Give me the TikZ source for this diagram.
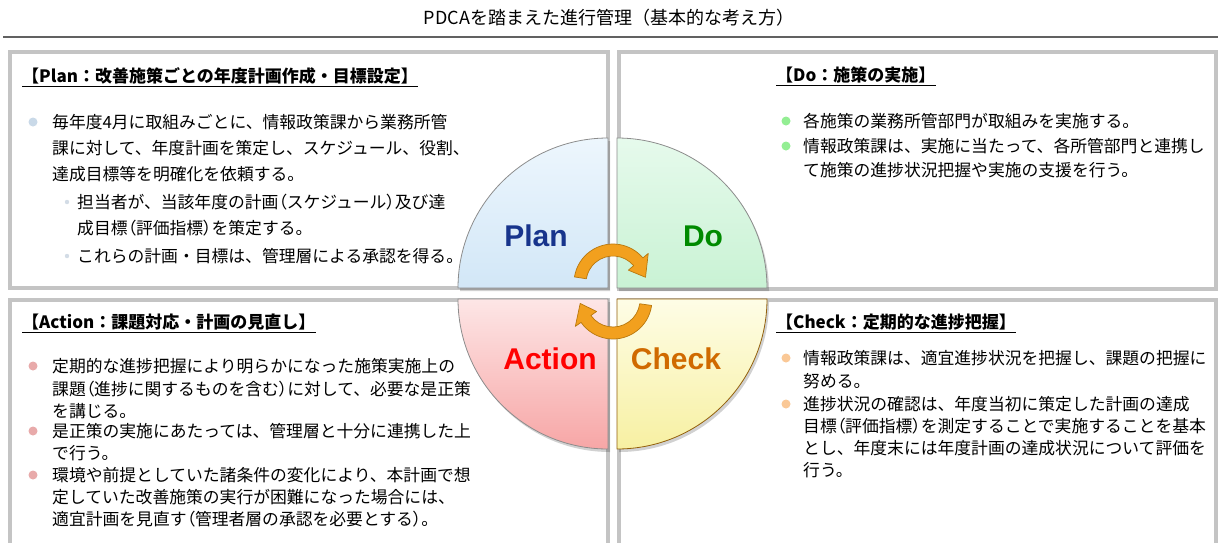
\documentclass[tikz,border=0pt]{standalone}
\usepackage{fontspec}
\setmainfont{Noto Sans CJK JP}
\newfontfamily\labfont{Liberation Sans}
\newcommand\plp{{\addfontfeature{RawFeature=+palt}（}}
\newcommand\prp{{\addfontfeature{RawFeature=+palt}）}}
\usetikzlibrary{calc}
\definecolor{boxgray}{HTML}{C4C4C4}
\definecolor{qedge}{HTML}{8C8C8C}
\definecolor{planblue}{HTML}{17348C}
\definecolor{dogreen}{HTML}{008A00}
\definecolor{actred}{HTML}{FF0000}
\definecolor{chkorange}{HTML}{D06A00}
\definecolor{arrowfill}{HTML}{F2A01E}
\definecolor{arrowedge}{HTML}{B8780E}
\definecolor{bulplan}{HTML}{C9D9E8}
\definecolor{bulsub}{HTML}{D3DCE6}
\definecolor{buldo}{HTML}{93EE93}
\definecolor{bulact}{HTML}{E8AAAA}
\definecolor{bulchk}{HTML}{FAC896}
\definecolor{plantop}{HTML}{EDF6FD}
\definecolor{planbot}{HTML}{D2E7F7}
\definecolor{dotop}{HTML}{E6FAEC}
\definecolor{dobot}{HTML}{C9F2D4}
\definecolor{acttop}{HTML}{FDE6E6}
\definecolor{actbot}{HTML}{F7A6A6}
\definecolor{chktop}{HTML}{FEFDE6}
\definecolor{chkbot}{HTML}{F7F0A2}
\tikzset{
  panel/.style={draw=boxgray, line width=4pt, fill=white, inner sep=0pt},
  body/.style={anchor=base west, inner sep=0pt, font=\fontsize{16.8}{20}\selectfont},
  head/.style={anchor=base west, inner sep=0pt, font=\fontsize{17}{20}\selectfont\bfseries},
  uline/.style={line width=1.3pt, black},
  quarter/.style={draw=qedge, line width=0.8pt},
  qshadow/.style={fill=black, opacity=0.18},
  qlabel/.style={font=\labfont\bfseries\fontsize{30}{30}\selectfont, inner sep=0pt},
  cyclearrow/.style={fill=arrowfill, draw=arrowedge, line width=0.7pt, line join=round},
  titleline/.style={draw=black!62, line width=1.6pt}
}
\begin{document}
\begin{tikzpicture}[x=1pt,y=1pt]
\useasboundingbox (0,0) rectangle (1218,-542);
\clip (0,0) rectangle (1218,-542);
\fill[white] (0,0) rectangle (1218,-542);

% title
\node[font=\fontsize{18}{18}\selectfont, inner sep=0pt] (title) at (609,-18) {PDCAを踏まえた進行管理（基本的な考え方）};
\coordinate (tl) at (3,-37);
\coordinate (tr) at (1218,-37);
\draw[titleline] (tl) -- (tr);

% panels
\node[panel, minimum width=598pt, minimum height=236pt] (planbox) at (309,-170) {};
\node[panel, minimum width=597pt, minimum height=237pt] (dobox) at (917.5,-170.5) {};
\node[panel, minimum width=598pt, minimum height=262pt] (actbox) at (309,-431) {};
\node[panel, minimum width=597pt, minimum height=262pt] (chkbox) at (917.5,-431) {};

% quarter shadows
\fill[qshadow] (610,-291) -- (460,-291) arc[start angle=180, end angle=90, radius=150] -- cycle;
\fill[qshadow] (619,-291) -- (619,-141) arc[start angle=90, end angle=0, radius=150] -- cycle;
\fill[qshadow] (610,-302) -- (610,-452) arc[start angle=-90, end angle=-180, radius=150] -- cycle;
\fill[qshadow] (619,-302) -- (769,-302) arc[start angle=0, end angle=-90, radius=150] -- cycle;

% quarters
\path[quarter, top color=plantop, bottom color=planbot]
  (608,-288) -- (458,-288) arc[start angle=180, end angle=90, radius=150] -- cycle;
\path[quarter, top color=dotop, bottom color=dobot]
  (617,-288) -- (617,-138) arc[start angle=90, end angle=0, radius=150] -- cycle;
\path[quarter, top color=acttop, bottom color=actbot]
  (608,-299) -- (608,-449) arc[start angle=-90, end angle=-180, radius=150] -- cycle;
\path[quarter, draw=arrowedge!80!black, top color=chktop, bottom color=chkbot]
  (617,-299) -- (767,-299) arc[start angle=0, end angle=-90, radius=150] -- cycle;

% quarter labels
\node[qlabel, text=planblue] (lplan) at (536,-236) {Plan};
\node[qlabel, text=dogreen] (ldo) at (703,-236) {Do};
\node[qlabel, text=actred] (lact) at (550,-359) {Action};
\node[qlabel, text=chkorange] (lchk) at (676,-359) {Check};

% cycle arrows
\coordinate (ca) at (613,-283);
\coordinate (cb) at (613,-300);
\path[cyclearrow] ($(ca)+(171:39)$) arc[start angle=171, end angle=40, radius=39]
  -- ($(ca)+(40:46)$) -- ($(ca)+(10:33)$) -- ($(ca)+(40:20)$) -- ($(ca)+(40:27)$)
  arc[start angle=40, end angle=171, radius=27] -- cycle;
\path[cyclearrow] ($(cb)+(-8:39)$) arc[start angle=-8, end angle=-145, radius=39]
  -- ($(cb)+(-145:46)$) -- ($(cb)+(-174:33)$) -- ($(cb)+(-145:20)$) -- ($(cb)+(-145:27)$)
  arc[start angle=-145, end angle=-8, radius=27] -- cycle;

% Plan text
\node[head] (hplan) at (22,-82.5) {【Plan：改善施策ごとの年度計画作成・目標設定】};
\draw[uline] ([yshift=-4pt]hplan.base west) -- ([yshift=-4pt]hplan.base east);
\fill[bulplan] (33,-122) circle (4.5);
\node[body] (p1) at (52,-128.4) {毎年度4月に取組みごとに、情報政策課から業務所管};
\node[body] (p2) at (52,-154.4) {課に対して、年度計画を策定し、スケジュール、役割、};
\node[body] (p3) at (52,-180.4) {達成目標等を明確化を依頼する。};
\fill[bulsub] (67,-202) circle (2.2);
\node[body] (p4) at (77,-208.4) {担当者が、当該年度の計画\plp スケジュール\prp 及び達};
\node[body] (p5) at (77,-234.4) {成目標\plp 評価指標\prp を策定する。};
\fill[bulsub] (67,-256) circle (2.2);
\node[body] (p6) at (77,-262.4) {これらの計画・目標は、管理層による承認を得る。};

% Do text
\node[head] (hdo) at (776,-81.5) {【Do：施策の実施】};
\draw[uline] ([yshift=-4pt]hdo.base west) -- ([yshift=-4pt]hdo.base east);
\fill[buldo] (786,-121) circle (4.5);
\node[body] (d1) at (803,-127.4) {各施策の業務所管部門が取組みを実施する。};
\fill[buldo] (786,-146) circle (4.5);
\node[body] (d2) at (803,-152.4) {情報政策課は、実施に当たって、各所管部門と連携し};
\node[body] (d3) at (803,-176.4) {て施策の進捗状況把握や実施の支援を行う。};

% Action text
\node[head] (hact) at (22,-328.5) {【Action：課題対応・計画の見直し】};
\draw[uline] ([yshift=-4pt]hact.base west) -- ([yshift=-4pt]hact.base east);
\fill[bulact] (33,-366) circle (4.5);
\node[body] (a1) at (52,-372.4) {定期的な進捗把握により明らかになった施策実施上の};
\node[body] (a2) at (52,-395.4) {課題\plp 進捗に関するものを含む\prp に対して、必要な是正策};
\node[body] (a3) at (52,-417.4) {を講じる。};
\fill[bulact] (33,-431) circle (4.5);
\node[body] (a4) at (52,-437.4) {是正策の実施にあたっては、管理層と十分に連携した上};
\node[body] (a5) at (52,-459.4) {で行う。};
\fill[bulact] (33,-475) circle (4.5);
\node[body] (a6) at (52,-481.4) {環境や前提としていた諸条件の変化により、本計画で想};
\node[body] (a7) at (52,-503.4) {定していた改善施策の実行が困難になった場合には、};
\node[body] (a8) at (52,-525.4) {適宜計画を見直す\plp 管理者層の承認を必要とする\prp 。};

% Check text
\node[head] (hchk) at (776,-328.5) {【Check：定期的な進捗把握】};
\draw[uline] ([yshift=-4pt]hchk.base west) -- ([yshift=-4pt]hchk.base east);
\fill[bulchk] (786,-358) circle (4.5);
\node[body] (c1) at (803,-364.4) {情報政策課は、適宜進捗状況を把握し、課題の把握に};
\node[body] (c2) at (803,-387.4) {努める。};
\fill[bulchk] (786,-404) circle (4.5);
\node[body] (c3) at (803,-410.4) {進捗状況の確認は、年度当初に策定した計画の達成};
\node[body] (c4) at (803,-432.4) {目標\plp 評価指標\prp を測定することで実施することを基本};
\node[body] (c5) at (803,-454.4) {とし、年度末には年度計画の達成状況について評価を};
\node[body] (c6) at (803,-476.4) {行う。};
\end{tikzpicture}
\end{document}
